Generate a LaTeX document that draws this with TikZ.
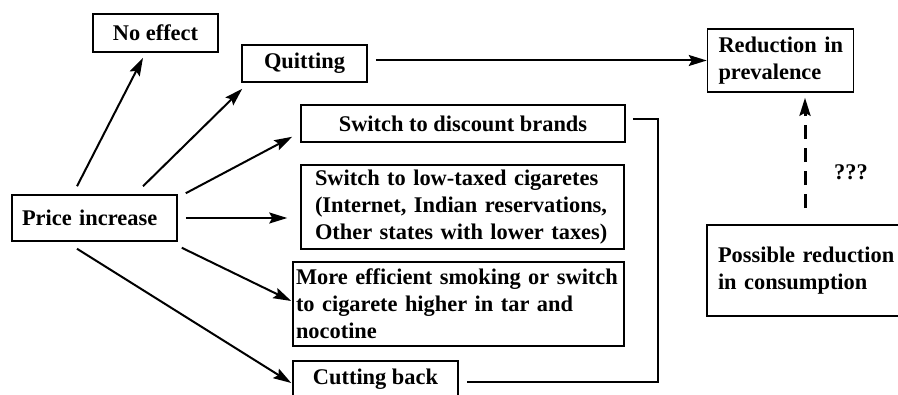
\documentclass[tikz,border=0pt]{standalone}
\usepackage{fontspec}
\setmainfont{Liberation Serif}
\usetikzlibrary{arrows.meta}

\tikzset{
    box/.style={draw, line width=1.5pt, inner sep=0pt,
        font=\fontsize{22.4}{27}\selectfont\bfseries},
    arr/.style={-{Stealth[length=18pt,width=11pt,inset=3pt]}, line width=2pt},
    dasharr/.style={arr, line width=3pt, dash pattern=on 14pt off 9pt}
}

\begin{document}
\begin{tikzpicture}[x=1pt,y=-1pt]
    \useasboundingbox (0,0) rectangle (898,395);

    % boxes
    \node[box, minimum width=165pt, minimum height=46pt, inner xsep=10pt, text width=145pt, align=left] (price) at (94.5,218) {Price increase};
    \node[box, minimum width=125pt, minimum height=38pt] (noeff) at (155.5,33) {No effect};
    \node[box, minimum width=125pt, minimum height=37pt] (quit) at (304.5,63.5) {Quitting};
    \node[box, minimum width=324pt, minimum height=37pt] (disc) at (463,123.5) {Switch to discount brands};
    \node[box, minimum height=84pt, inner xsep=14pt, text width=295pt, align=left] (lowtax) at (462.5,207) {Switch to low-taxed cigaretes\\(Internet, Indian reservations,\\Other states with lower taxes)};
    \node[box, minimum height=84pt, inner xsep=3pt, text width=325pt, align=left] (eff) at (458.5,304) {More efficient smoking or switch\\to cigarete higher in tar and\\nocotine};
    \node[box, minimum width=165pt, minimum height=37pt] (cut) at (375.5,379.5) {Cutting back};
    \node[box, minimum height=63pt, inner xsep=11pt, text width=124pt, align=left] (prev) at (780.5,60.5) {Reduction~in\\prevalence};
    \node[box, minimum height=91pt, inner xsep=11pt, text width=178pt, align=left] (poss) at (807,270.5) {Possible~reduction\\in consumption};
    \node[font=\fontsize{22.4}{27}\selectfont\bfseries] (qq) at (851,172) {???};

    % arrows out of price increase
    \draw[arr] ([xshift=-17.5pt,yshift=8pt]price.north) -- ([xshift=-12.5pt,yshift=-5pt]noeff.south);
    \draw[arr] ([xshift=48.5pt,yshift=8pt]price.north) -- ([xshift=1pt,yshift=-6pt]quit.south west);
    \draw[arr] ([xshift=8pt,yshift=1pt]price.north east) -- ([xshift=-8pt,yshift=6pt]disc.south west);
    \draw[arr] ([xshift=8pt]price.east) -- ([xshift=-13pt]price.east -| lowtax.west);
    \draw[arr] ([xshift=4pt,yshift=-6pt]price.south east) -- ([xshift=-1pt,yshift=3pt]eff.west);
    \draw[arr] ([xshift=-17.5pt,yshift=-7pt]price.south) -- ([xshift=-1pt,yshift=-3.5pt]cut.west);

    % quitting to prevalence
    \draw[arr, shorten <=8pt] (quit.east |- prev.west) -- (prev.west);

    % consumption to prevalence
    \draw[dasharr, shorten <=16pt, shorten >=5pt] ([xshift=-2pt]poss.north) -- ([xshift=-2pt]poss.north |- prev.south);

    % bracket
    \draw[line width=1.5pt] ([xshift=7pt,yshift=4.5pt]disc.east) -- ++(25,0) |- ([xshift=8pt,yshift=-2.5pt]cut.east);
\end{tikzpicture}
\end{document}
